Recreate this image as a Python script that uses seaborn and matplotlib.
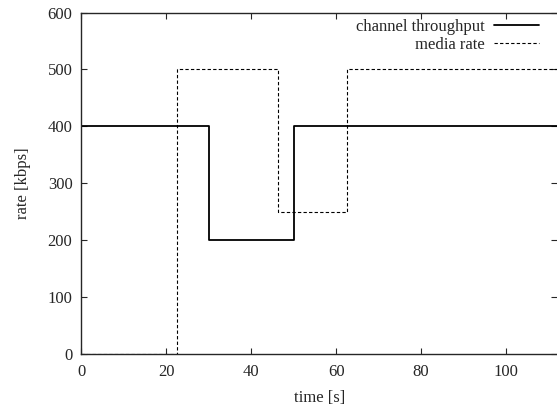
import pandas as pd
import seaborn as sns
from matplotlib import pyplot as plt

# step points (time [s], rate [kbps])
channel_time = [0, 30, 50, 112]
channel_rate = [400, 200, 400, 400]
media_time = [0, 22.5, 46.3, 62.5, 112]
media_rate = [0, 500, 250, 500, 500]

sns.set_style("ticks")
plt.rcParams["font.family"] = ["Liberation Serif", "DejaVu Serif"]
plt.rcParams["font.size"] = 12
plt.rcParams["xtick.direction"] = "in"
plt.rcParams["ytick.direction"] = "in"

df_ch = pd.DataFrame({"time": channel_time, "rate": channel_rate})
df_me = pd.DataFrame({"time": media_time, "rate": media_rate})

fig = plt.figure(figsize=(5.57, 4.07), dpi=100)
ax = fig.add_axes([0.1463, 0.1302, 0.8537, 0.839])

sns.lineplot(data=df_ch, x="time", y="rate", ax=ax, color="black", lw=1.3,
             drawstyle="steps-post", label="channel throughput")
sns.lineplot(data=df_me, x="time", y="rate", ax=ax, color="black", lw=0.8,
             drawstyle="steps-post", dashes=False, ls=(0, (3, 2)),
             label="media rate")

ax.set_xlim(0, 112)
ax.set_ylim(0, 600)
ax.set_xticks(range(0, 101, 20))
ax.set_yticks(range(0, 601, 100))
ax.tick_params(top=True, right=True, length=4, width=0.8, labelsize=12)
ax.tick_params(axis="x", pad=7.5)
ax.tick_params(axis="y", pad=6.5)
for s in ax.spines.values():
    s.set_linewidth(1.0)
ax.spines["right"].set_visible(False)

ax.set_xlabel("time [s]", fontsize=12, labelpad=7)
ax.set_ylabel("rate [kbps]", fontsize=12, labelpad=12)

ax.legend(loc="upper right", frameon=False, markerfirst=False, fontsize=12,
          handlelength=2.7, handletextpad=0.6, labelspacing=0.1,
          borderaxespad=0.0, bbox_to_anchor=(0.977, 1.0))

fig.savefig("out.png", dpi=100)
